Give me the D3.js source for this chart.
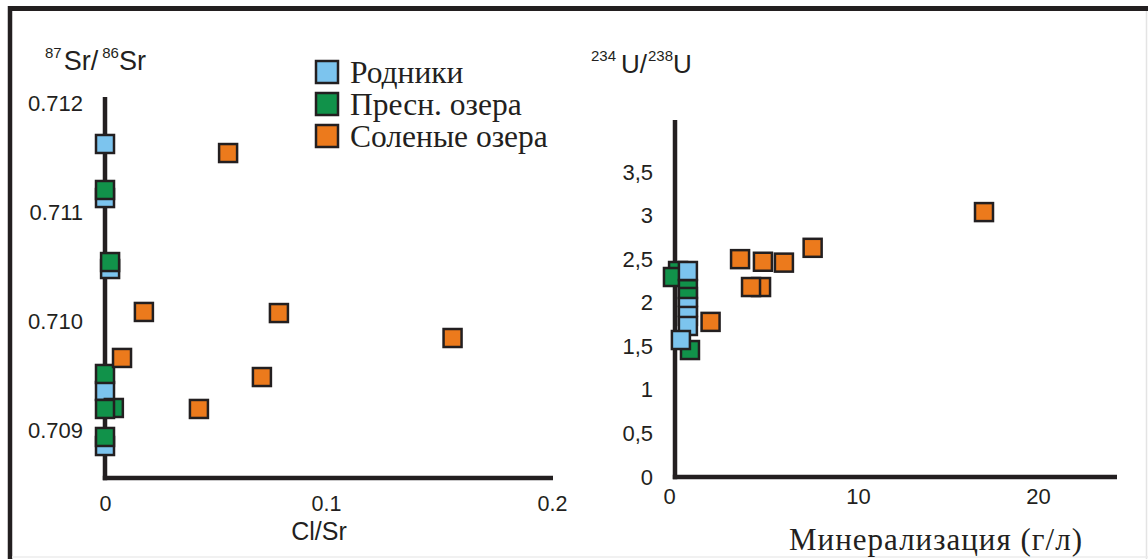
<!DOCTYPE html>
<html><head><meta charset="utf-8">
<script src="https://cdn.jsdelivr.net/npm/d3@7"></script>
<style>html,body{margin:0;padding:0;background:#fff;}svg{display:block;}</style>
</head><body>
<script>
// ---------- data ----------
const categories = ["Родники", "Пресн. озера", "Соленые озера"];
// Left panel: Cl/Sr vs 87Sr/86Sr
const springsClSr = [0, 0, 0.0023, 0, 0];
const springsSr   = [0.711624, 0.711128, 0.710477, 0.709358, 0.708853];
const freshClSr   = [0, 0.0023, 0, 0.004, 0, 0];
const freshSr     = [0.711202, 0.710541, 0.709514, 0.709202, 0.709193, 0.708936];
const saltClSr    = [0.0557, 0.0176, 0.0077, 0.0787, 0.156, 0.071, 0.0425];
const saltSr      = [0.711541, 0.710083, 0.709661, 0.710073, 0.709844, 0.709486, 0.709193];
// Right panel: mineralization (g/l) vs 234U/238U
const springsMin = [1.0, 1.0, 1.0, 1.0, 0.63];
const springsU   = [2.364, 1.951, 1.848, 1.733, 1.572];
const freshMin   = [0.48, 0.21, 1.0, 1.0, 1.11];
const freshU     = [2.364, 2.295, 2.157, 2.066, 1.457];
const saltMin    = [3.76, 4.87, 4.34, 4.97, 6.08, 7.6, 2.2, 17.0];
const saltU      = [2.50, 2.18, 2.18, 2.47, 2.46, 2.63, 1.78, 3.04];
const leftXTicks  = [0, 0.1, 0.2];
const leftXTickLabels = ["0", "0.1", "0.2"];
const leftYTicks  = [0.709, 0.710, 0.711, 0.712];
const leftYTickLabels = ["0.709", "0.710", "0.711", "0.712"];
const rightXTicks = [0, 10, 20];
const rightYTicks = [0, 0.5, 1, 1.5, 2, 2.5, 3, 3.5];
const rightYTickLabels = ["0", "0,5", "1", "1,5", "2", "2,5", "3", "3,5"];

// ---------- styles ----------
const colors = {"Родники": "#7cc4ee", "Пресн. озера": "#11924a", "Соленые озера": "#ec7a1c"};
const ink = "#231f20";
const sq = 18;

const W = 1148, H = 559;
const svg = d3.select("body").append("svg").attr("width", W).attr("height", H);
svg.append("rect").attr("width", W).attr("height", H).attr("fill", "#fff");

// frame
svg.append("line").attr("x1", 8).attr("x2", W).attr("y1", 8.5).attr("y2", 8.5).attr("stroke", ink).attr("stroke-width", 5);
svg.append("line").attr("x1", 10).attr("x2", 10).attr("y1", 6).attr("y2", H).attr("stroke", ink).attr("stroke-width", 4.5);
svg.append("line").attr("x1", W - 1.5).attr("x2", W - 1.5).attr("y1", 11).attr("y2", H).attr("stroke", "#e4e4e4").attr("stroke-width", 1.5);
svg.append("line").attr("x1", 12).attr("x2", W).attr("y1", H - 2).attr("y2", H - 2).attr("stroke", "#ececec").attr("stroke-width", 1.5);

const sans = "Liberation Sans, Arial, sans-serif";
const serif = "Liberation Serif, Times New Roman, serif";

// ---------- scales ----------
const xL = d3.scaleLinear().domain([0, 0.1, 0.2]).range([105, 326, 552]);
const yL = d3.scaleLinear().domain([0.709, 0.712]).range([430, 103]);
const xR = d3.scaleLinear().domain([0, 10, 20]).range([669, 858, 1038]);
const yR = d3.scaleLinear().domain([0, 3.5]).range([477, 172]);

// ---------- axes lines ----------
function axLine(x1, y1, x2, y2) {
  svg.append("line").attr("x1", x1).attr("y1", y1).attr("x2", x2).attr("y2", y2)
    .attr("stroke", ink).attr("stroke-width", 4.5).attr("stroke-linecap", "butt");
}
axLine(105, 97, 105, 480.2);
axLine(102.8, 478, 553, 478);
axLine(675, 120, 675, 479.2);
axLine(672.8, 477, 1117, 477);

function styleAxis(g, size) {
  g.select(".domain").remove();
  g.selectAll(".tick line").remove();
  g.selectAll(".tick text").attr("font-family", sans).attr("font-size", size).attr("fill", ink);
}
svg.append("g").attr("transform", "translate(0,478)")
  .call(d3.axisBottom(xL).tickValues(leftXTicks).tickFormat((d, i) => leftXTickLabels[i]).tickSize(0).tickPadding(18))
  .call(g => styleAxis(g, 21.5));
svg.append("g").attr("transform", "translate(83,0)")
  .call(d3.axisLeft(yL).tickValues(leftYTicks).tickFormat((d, i) => leftYTickLabels[i]).tickSize(0).tickPadding(0))
  .call(g => styleAxis(g, 22));
svg.append("g").attr("transform", "translate(0,477)")
  .call(d3.axisBottom(xR).tickValues(rightXTicks).tickFormat(d3.format("d")).tickSize(0).tickPadding(11))
  .call(g => styleAxis(g, 22));
svg.append("g").attr("transform", "translate(653,0)")
  .call(d3.axisLeft(yR).tickValues(rightYTicks).tickFormat((d, i) => rightYTickLabels[i]).tickSize(0).tickPadding(0))
  .call(g => styleAxis(g, 22));

// ---------- axis titles ----------
function isoLabel(x, y, parts) {
  const t = svg.append("text").attr("x", x).attr("y", y).attr("font-family", sans).attr("fill", ink);
  parts.forEach(p => {
    t.append("tspan").text(p[0]).attr("font-size", p[1]).attr("dy", p[2]).attr("dx", p[3] || 0);
  });
}
isoLabel(45, 70, [["87", 15, -12], ["Sr/", 27, 12, 2], ["86", 15, -12, 4], ["Sr", 27, 12]]);
isoLabel(591, 73, [["234", 15, -12], ["U/", 26, 12, 5], ["238", 15, -12, 1], ["U", 26, 12]]);

svg.append("text").attr("x", 319).attr("y", 540).attr("text-anchor", "middle")
  .attr("font-family", sans).attr("font-size", 25).attr("fill", ink).text("Cl/Sr");
svg.append("text").attr("x", 789).attr("y", 550)
  .attr("font-family", serif).attr("font-size", 31).attr("fill", ink)
  .attr("textLength", 293).attr("lengthAdjust", "spacing").text("Минерализация (г/л)");

// ---------- points ----------
function drawSeries(xs, ys, xScale, yScale, cat) {
  svg.append("g").selectAll("rect").data(xs.map((v, i) => [v, ys[i]])).join("rect")
    .attr("x", d => xScale(d[0]) - sq / 2)
    .attr("y", d => yScale(d[1]) - sq / 2)
    .attr("width", sq).attr("height", sq)
    .attr("fill", colors[cat]).attr("stroke", ink).attr("stroke-width", 2.5);
}
drawSeries(springsClSr, springsSr, xL, yL, categories[0]);
drawSeries(freshClSr, freshSr, xL, yL, categories[1]);
drawSeries(saltClSr, saltSr, xL, yL, categories[2]);

drawSeries(freshMin, freshU, xR, yR, categories[1]);
drawSeries(springsMin, springsU, xR, yR, categories[0]);
drawSeries(saltMin, saltU, xR, yR, categories[2]);

// ---------- legend ----------
const lg = svg.append("g").attr("transform", "translate(316,83)");
categories.forEach((c, i) => {
  const row = lg.append("g").attr("transform", `translate(0,${i * 32})`);
  row.append("rect").attr("x", 0).attr("y", -22).attr("width", 22).attr("height", 22)
    .attr("fill", colors[c]).attr("stroke", ink).attr("stroke-width", 2.5);
  row.append("text").attr("x", 34).attr("y", 0).attr("font-family", serif)
    .attr("font-size", 31.5).attr("fill", ink).text(c);
});
</script>
</body></html>
